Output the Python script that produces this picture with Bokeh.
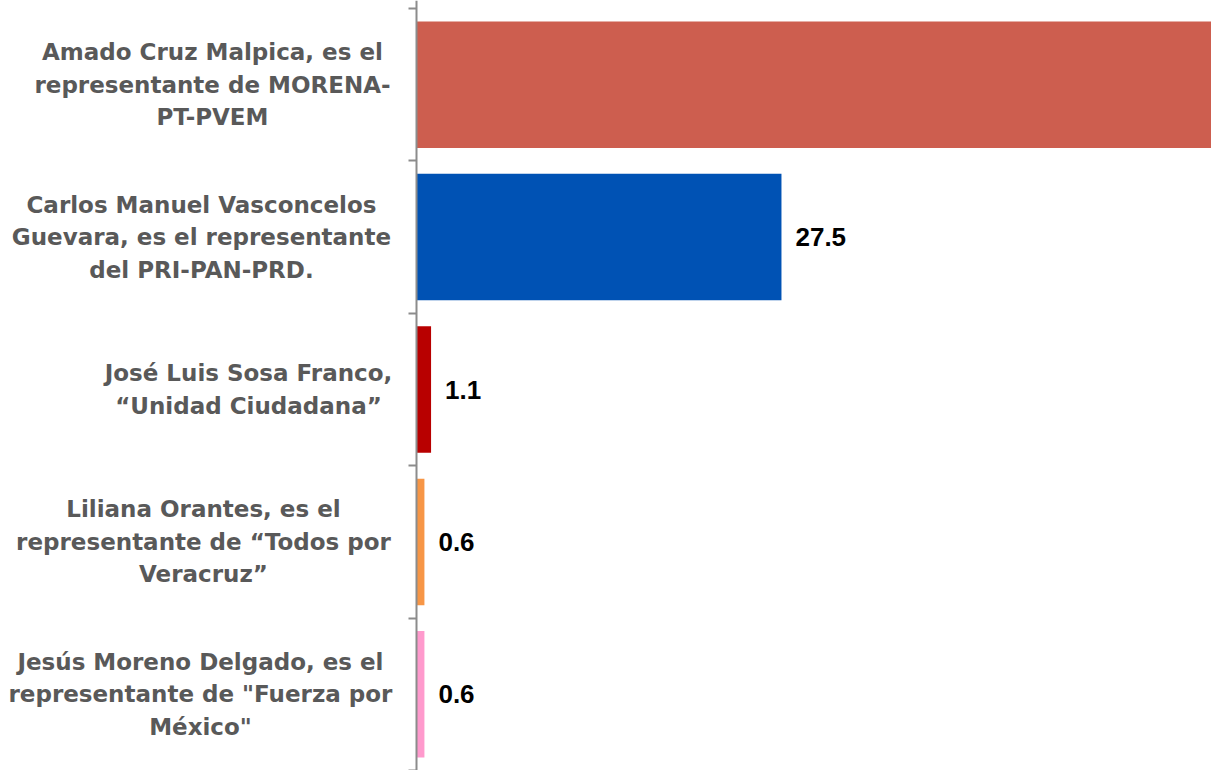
from bokeh.plotting import figure
from bokeh.models import ColumnDataSource, Range1d, FixedTicker
from bokeh.core.properties import value
from bokeh.embed import file_html
from bokeh.resources import INLINE

# ---- data ----
categories = [
    "Amado Cruz Malpica, es el\nrepresentante de MORENA-\nPT-PVEM",
    "Carlos Manuel Vasconcelos\nGuevara, es el representante\ndel PRI-PAN-PRD.",
    "José Luis Sosa Franco,\n\u201cUnidad Ciudadana\u201d",
    "Liliana Orantes, es el\nrepresentante de \u201cTodos por\nVeracruz\u201d",
    "Jesús Moreno Delgado, es el\nrepresentante de \"Fuerza por\nMéxico\"",
]
values = [70.2, 27.5, 1.1, 0.6, 0.6]
colors = ["#CD5E4F", "#0052B4", "#B80000", "#F79646", "#FF9ACD"]
value_labels = ["70.2", "27.5", "1.1", "0.6", "0.6"]

# layout (pixel offsets of category label centres from the axis)
label_offsets = [-204, -215, -168, -213, -216]

n = len(categories)
ypos = [n - i - 0.5 for i in range(n)]

src = ColumnDataSource(dict(
    y=ypos, v=values, c=colors, cat=categories,
    zero=[0] * n, off=label_offsets,
))

# value labels only for bars whose end lies inside the visible range
x_end = 59.9
vis = [i for i in range(n) if values[i] < x_end - 5]
lab_src = ColumnDataSource(dict(
    y=[ypos[i] for i in vis], v=[values[i] for i in vis],
    vl=[value_labels[i] for i in vis],
))

p = figure(
    width=1211, height=770,
    x_range=Range1d(-31.34, x_end), y_range=Range1d(0, n + 0.0525),
    output_backend="svg", toolbar_location=None,
    x_axis_location=None, y_axis_location="left",
    min_border=0,
)
p.outline_line_color = None
p.grid.visible = False
p.background_fill_color = "white"

p.hbar(y="y", left="zero", right="v", height=0.83, fill_color="c",
       line_color=None, source=src)

# value labels
p.text(x="v", y="y", text="vl", x_offset=14, text_align="left",
       text_baseline="middle", text_font=value("Liberation Sans"),
       text_font_style="bold", text_font_size="26px", text_color="#000000",
       source=lab_src)

# category labels
p.text(x="zero", y="y", text="cat", x_offset="off", text_align="center",
       text_baseline="middle", text_font=value("DejaVu Sans"),
       text_font_style="bold", text_font_size="23px", text_color="#595959",
       text_line_height=1.25, source=src)

ax = p.yaxis[0]
ax.fixed_location = 0
ax.ticker = FixedTicker(ticks=list(range(n + 1)))
ax.major_label_text_font_size = "0px"
ax.major_label_text_color = None
ax.axis_line_color = "#8C8C8C"
ax.axis_line_width = 2
ax.major_tick_line_color = "#8C8C8C"
ax.major_tick_line_width = 2
ax.major_tick_out = 8
ax.major_tick_in = 0
ax.minor_tick_line_color = None

open("out.html", "w").write(file_html(p, INLINE))
